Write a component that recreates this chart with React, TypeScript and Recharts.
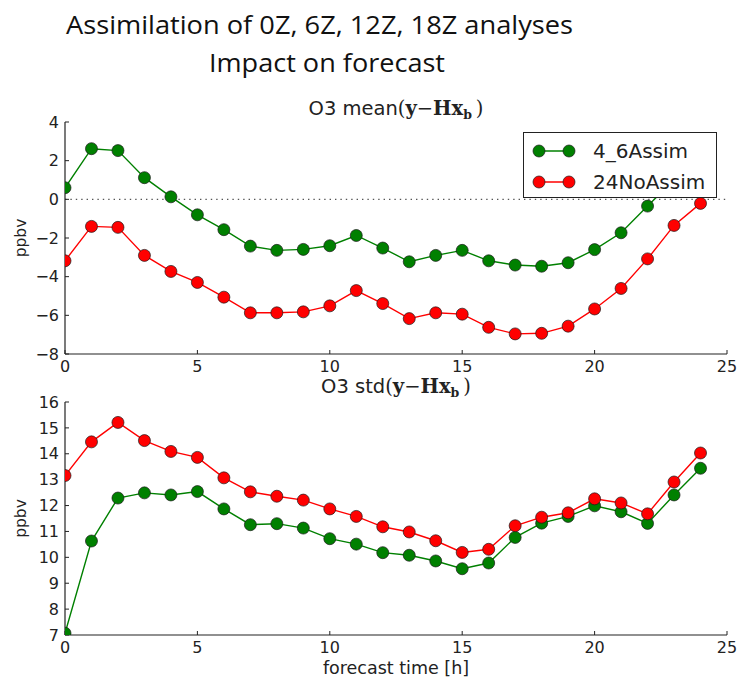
import React from 'react';
import { LineChart, Line, XAxis, YAxis, ReferenceLine, Legend } from 'recharts';

// ---- data ----
const hours = [0, 1, 2, 3, 4, 5, 6, 7, 8, 9, 10, 11, 12, 13, 14, 15, 16, 17, 18, 19, 20, 21, 22, 23, 24];
const seriesNames = ['4_6Assim', '24NoAssim'];
const meanAssim = [0.6, 2.62, 2.52, 1.12, 0.13, -0.8, -1.57, -2.42, -2.64, -2.59, -2.4, -1.87, -2.52, -3.23, -2.9, -2.64, -3.18, -3.4, -3.46, -3.28, -2.6, -1.73, -0.35, 1.0, 1.6];
const meanNoAssim = [-3.18, -1.4, -1.45, -2.9, -3.73, -4.3, -5.06, -5.87, -5.87, -5.82, -5.51, -4.72, -5.39, -6.17, -5.87, -5.94, -6.62, -6.96, -6.93, -6.56, -5.67, -4.61, -3.08, -1.35, -0.21];
const stdAssim = [7.07, 10.63, 12.29, 12.49, 12.41, 12.54, 11.87, 11.26, 11.3, 11.13, 10.72, 10.51, 10.18, 10.08, 9.86, 9.56, 9.78, 10.77, 11.32, 11.58, 11.99, 11.76, 11.31, 12.41, 13.44];
const stdNoAssim = [13.16, 14.46, 15.21, 14.51, 14.09, 13.86, 13.07, 12.53, 12.36, 12.21, 11.87, 11.58, 11.18, 10.98, 10.64, 10.19, 10.31, 11.22, 11.55, 11.72, 12.26, 12.1, 11.68, 12.91, 14.03];
const xTicks = [0, 5, 10, 15, 20, 25];
const meanTicks = [-8, -6, -4, -2, 0, 2, 4];
const stdTicks = [7, 8, 9, 10, 11, 12, 13, 14, 15, 16];
const titleLines = ['Assimilation of 0Z, 6Z, 12Z, 18Z analyses', 'Impact on forecast'];
const xLabel = 'forecast time [h]';
const yLabel = 'ppbv';

const meanData = hours.map((t, i) => ({ t, assim: meanAssim[i], noAssim: meanNoAssim[i] }));
const stdData = hours.map((t, i) => ({ t, assim: stdAssim[i], noAssim: stdNoAssim[i] }));

// ---- styles ----
const GREEN = '#008000';
const RED = '#ff0000';
const EDGE = '#1a1a1a';
const AXIS = '#222';
const FONT = '"DejaVu Sans", sans-serif';
const SERIF = '"DejaVu Serif", serif';
const fill: Record<string, string> = { assim: GREEN, noAssim: RED };

const fmt = (v: number) => (v < 0 ? '\u2212' + Math.abs(v) : String(v));
const tickStyle = { fontSize: 16, fill: AXIS, fontFamily: FONT };

const YLab = (props: any) => {
  const vb = props.viewBox || {};
  const cy = vb.y + vb.height / 2;
  return (
    <text x={21} y={cy} transform={`rotate(-90, 21, ${cy})`} textAnchor="middle" dominantBaseline="central"
      fontSize={15.5} fontFamily={FONT} fill={AXIS}>{yLabel}</text>
  );
};

const XLab = (props: any) => {
  const vb = props.viewBox || {};
  return (
    <text x={vb.x + vb.width / 2} y={vb.y + 33} textAnchor="middle" dominantBaseline="central"
      fontSize={17.5} fontFamily={FONT} fill={AXIS}>{xLabel}</text>
  );
};

const LegendBox = (props: any) => {
  const payload = [...(props.payload || [])].sort(
    (a: any, b: any) => seriesNames.indexOf(a.value) - seriesNames.indexOf(b.value)
  );
  return (
    <div style={{ width: 194, height: 66, boxSizing: 'border-box', border: '1px solid #222', background: '#fff', position: 'relative' }}>
      {payload.map((p: any, i: number) => (
        <div key={p.value} style={{ position: 'absolute', left: 0, top: 4 + i * 30.5, height: 28, display: 'flex', alignItems: 'center' }}>
          <svg width={60} height={28} style={{ display: 'block', flex: 'none' }}>
            <line x1={15} x2={45} y1={14} y2={14} stroke={p.color} strokeWidth={1.5} />
            <circle cx={15} cy={14} r={6} fill={fill[p.dataKey]} stroke={EDGE} strokeWidth={0.7} />
            <circle cx={45} cy={14} r={6} fill={fill[p.dataKey]} stroke={EDGE} strokeWidth={0.7} />
          </svg>
          <span style={{ marginLeft: 9, fontSize: 20, fontFamily: FONT, color: AXIS, lineHeight: '28px', whiteSpace: 'nowrap' }}>{p.value}</span>
        </div>
      ))}
    </div>
  );
};

const dotG = { r: 6, fill: GREEN, stroke: EDGE, strokeWidth: 0.7 };
const dotR = { r: 6, fill: RED, stroke: EDGE, strokeWidth: 0.7 };

const PanelTitle = ({ x, y, stat }: { x: number; y: number; stat: string }) => (
  <text x={x} y={y} textAnchor="middle" fontSize={19.5} fontFamily={FONT} fill={AXIS}>
    {'O3 ' + stat}
    <tspan fontFamily={SERIF}>(</tspan>
    <tspan fontFamily={SERIF} fontWeight="bold">y</tspan>
    <tspan fontFamily={SERIF}>{'\u2212'}</tspan>
    <tspan fontFamily={SERIF} fontWeight="bold">Hx</tspan>
    <tspan fontFamily={SERIF} fontWeight="bold" fontSize={12.5} dy={4}>b</tspan>
    <tspan fontFamily={SERIF} dy={-4}>{'\u2009)'}</tspan>
  </text>
);

export default function App() {
  return (
    <div style={{ position: 'absolute', left: 0, top: 0, width: 737, height: 677, background: '#fff', overflow: 'hidden' }}>
      <svg width={737} height={677} style={{ position: 'absolute', left: 0, top: 0 }}>
        <text x={66} y={34} fontSize={25.5} fontFamily='"Open Sans", sans-serif' fill="#111" textLength={507} lengthAdjust="spacingAndGlyphs">{titleLines[0]}</text>
        <text x={209} y={72} fontSize={25.5} fontFamily='"Open Sans", sans-serif' fill="#111" textLength={236} lengthAdjust="spacingAndGlyphs">{titleLines[1]}</text>
        <PanelTitle x={396} y={115} stat="mean" />
        <PanelTitle x={396} y={393} stat="std" />
      </svg>

      <div style={{ position: 'absolute', left: 0, top: 90 }}>
        <LineChart width={737} height={294} data={meanData} margin={{ top: 32, right: 10, bottom: 0, left: 0 }}>
          <XAxis dataKey="t" type="number" domain={[0, 25]} ticks={xTicks} allowDataOverflow height={30}
            tickSize={-4} tickMargin={11} tick={tickStyle} stroke={AXIS} axisLine={{ stroke: AXIS, strokeWidth: 1.2 }} />
          <XAxis xAxisId="top" orientation="top" dataKey="t" type="number" domain={[0, 25]} ticks={xTicks} height={0}
            tickSize={-4} tick={false} stroke={AXIS} axisLine={{ stroke: AXIS, strokeWidth: 1.2 }} />
          <YAxis type="number" domain={[-8, 4]} ticks={meanTicks} allowDataOverflow width={65} tickFormatter={fmt}
            tickSize={-4} tickMargin={10} tick={tickStyle} stroke={AXIS} axisLine={{ stroke: AXIS, strokeWidth: 1.2 }}
            label={<YLab />} />
          <YAxis yAxisId="right" orientation="right" type="number" domain={[-8, 4]} ticks={meanTicks} width={0}
            tickSize={-4} tick={false} stroke={AXIS} axisLine={{ stroke: AXIS, strokeWidth: 1.2 }} />
          <ReferenceLine y={0} stroke="#555" strokeWidth={1.2} strokeDasharray="1.4 4" />
          <Line dataKey="assim" name={seriesNames[0]} stroke={GREEN} strokeWidth={1.4} dot={dotG} activeDot={false} isAnimationActive={false} />
          <Line dataKey="noAssim" name={seriesNames[1]} stroke={RED} strokeWidth={1.4} dot={dotR} activeDot={false} isAnimationActive={false} />
          <Legend layout="horizontal" verticalAlign="middle" align="center" content={<LegendBox />}
            wrapperStyle={{ top: 42, left: 523, width: 194, height: 66 }} />
        </LineChart>
      </div>

      <div style={{ position: 'absolute', left: 0, top: 380 }}>
        <LineChart width={737} height={297} data={stdData} margin={{ top: 22, right: 10, bottom: 0, left: 0 }}>
          <XAxis dataKey="t" type="number" domain={[0, 25]} ticks={xTicks} allowDataOverflow height={42}
            tickSize={-4} tickMargin={11} tick={tickStyle} stroke={AXIS} axisLine={{ stroke: AXIS, strokeWidth: 1.2 }}
            label={<XLab />} />
          <XAxis xAxisId="top" orientation="top" dataKey="t" type="number" domain={[0, 25]} ticks={xTicks} height={0}
            tickSize={-4} tick={false} stroke={AXIS} axisLine={{ stroke: AXIS, strokeWidth: 1.2 }} />
          <YAxis type="number" domain={[7, 16]} ticks={stdTicks} allowDataOverflow width={65} tickFormatter={fmt}
            tickSize={-4} tickMargin={10} tick={tickStyle} stroke={AXIS} axisLine={{ stroke: AXIS, strokeWidth: 1.2 }}
            label={<YLab />} />
          <YAxis yAxisId="right" orientation="right" type="number" domain={[7, 16]} ticks={stdTicks} width={0}
            tickSize={-4} tick={false} stroke={AXIS} axisLine={{ stroke: AXIS, strokeWidth: 1.2 }} />
          <Line dataKey="assim" name={seriesNames[0]} stroke={GREEN} strokeWidth={1.4} dot={dotG} activeDot={false} isAnimationActive={false} />
          <Line dataKey="noAssim" name={seriesNames[1]} stroke={RED} strokeWidth={1.4} dot={dotR} activeDot={false} isAnimationActive={false} />
        </LineChart>
      </div>
    </div>
  );
}
